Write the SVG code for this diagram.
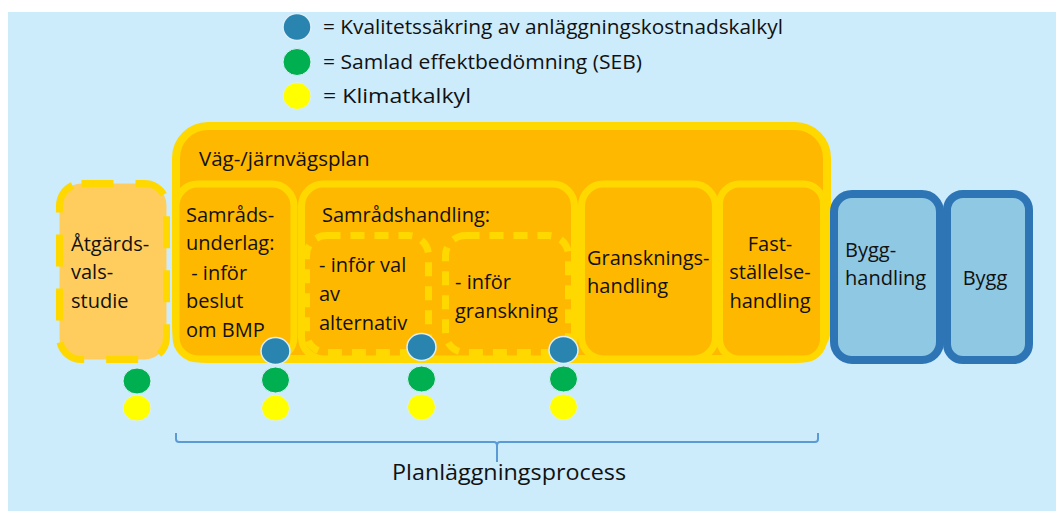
<svg xmlns="http://www.w3.org/2000/svg" width="1056" height="511" viewBox="0 0 1056 511">
<style>
text{font-family:"Open Sans","Liberation Sans",sans-serif;font-size:20px;fill:#111}
.leg{font-size:20.5px}
.box{fill:#FFB800;stroke:#FFD800;stroke-width:7}
.dash{fill:#FFB800;stroke:#FFD800;stroke-width:7;stroke-dasharray:14 10}
.blue{fill:#8FC8E3;stroke:#2E75B6;stroke-width:8}
.db{fill:#2A84B0;stroke:#DCEEF9;stroke-width:1.5}
.dg{fill:#00B050;stroke:#DCEEF9;stroke-width:1}
.dy{fill:#FFFF00;stroke:#DCEEF9;stroke-width:1}
.mid{text-anchor:middle}
</style>
<rect x="0" y="0" width="1056" height="511" fill="#FFFFFF"/>
<rect x="8" y="12" width="1048" height="499" fill="#CCEBFB"/>

<g id="legend">
<ellipse class="db" cx="297" cy="27" rx="14" ry="13.5"/>
<text class="leg" x="323" y="34" textLength="460" lengthAdjust="spacingAndGlyphs">= Kvalitetssäkring av anläggningskostnadskalkyl</text>
<ellipse class="dg" cx="297" cy="62" rx="14" ry="13.5"/>
<text class="leg" x="323" y="69" textLength="319" lengthAdjust="spacingAndGlyphs">= Samlad effektbedömning  (SEB)</text>
<ellipse class="dy" cx="297" cy="96" rx="14" ry="13.5"/>
<text class="leg" x="323" y="103" textLength="148" lengthAdjust="spacingAndGlyphs">= Klimatkalkyl</text>
</g>

<g id="atgard">
<rect x="59.5" y="183.5" width="107" height="176" rx="22" fill="#FFCD5E" stroke="#FFD800" stroke-width="7" stroke-dasharray="32 22"/>
<text x="71" y="251">Åtgärds-</text>
<text x="71" y="279">vals-</text>
<text x="71" y="308">studie</text>
</g>

<g id="vagplan">
<rect x="176" y="126" width="651" height="233" rx="32" fill="#FFB800" stroke="#FFD800" stroke-width="8"/>
<text x="199" y="166" style="font-size:20.5px">Väg-/järnvägsplan</text>
</g>

<g id="samradsunderlag">
<rect class="box" x="176" y="184" width="118" height="175" rx="22"/>
<text x="186" y="222">Samråds-</text>
<text x="186" y="250">underlag:</text>
<text x="186" y="280" xml:space="preserve"> - inför</text>
<text x="186" y="308">beslut</text>
<text x="186" y="337">om BMP</text>
</g>

<g id="samradshandling">
<rect class="box" x="301.5" y="184" width="273" height="175" rx="22"/>
<text x="322" y="222">Samrådshandling:</text>
</g>

<g id="valalternativ">
<rect class="dash" x="306.5" y="235.5" width="122" height="117" rx="20"/>
<text x="319" y="272">- inför val</text>
<text x="319" y="301">av</text>
<text x="319" y="330">alternativ</text>
</g>

<g id="granskning">
<rect class="dash" x="445.5" y="235.5" width="123" height="117" rx="20"/>
<text x="455" y="289">- inför</text>
<text x="455" y="318">granskning</text>
</g>

<g id="granskningshandling">
<rect class="box" x="581.5" y="184" width="134" height="175" rx="22"/>
<text x="587" y="265">Gransknings-</text>
<text x="587" y="293">handling</text>
</g>

<g id="faststallelse">
<rect class="box" x="719.5" y="184" width="104" height="175" rx="20"/>
<text class="mid" x="770" y="251">Fast-</text>
<text class="mid" x="770" y="279">ställelse-</text>
<text class="mid" x="770" y="308">handling</text>
</g>

<g id="bygghandling">
<rect class="blue" x="834" y="194" width="106" height="166" rx="18"/>
<text x="845" y="257">Bygg-</text>
<text x="845" y="285">handling</text>
</g>

<g id="bygg">
<rect class="blue" x="947" y="194" width="82" height="166" rx="16"/>
<text class="mid" x="985" y="285">Bygg</text>
</g>

<g id="dots">
<ellipse class="dg" cx="137" cy="381" rx="14" ry="13"/>
<ellipse class="dy" cx="137" cy="408" rx="14" ry="13"/>
<ellipse class="db" cx="275.5" cy="351" rx="14.5" ry="13.5"/>
<ellipse class="dg" cx="275.5" cy="380" rx="14" ry="13"/>
<ellipse class="dy" cx="275.5" cy="408" rx="14" ry="13"/>
<ellipse class="db" cx="421.5" cy="347" rx="14.5" ry="13.5"/>
<ellipse class="dg" cx="421.5" cy="379" rx="14" ry="13"/>
<ellipse class="dy" cx="421.5" cy="407" rx="14" ry="13"/>
<ellipse class="db" cx="563.5" cy="350" rx="14.5" ry="13.5"/>
<ellipse class="dg" cx="563.5" cy="379" rx="14" ry="13"/>
<ellipse class="dy" cx="563.5" cy="407" rx="14" ry="13"/>
</g>

<g id="connectors">
<path d="M176,433 V439 Q176,442 179,442 H494 Q497,442 497,446 V462 M497,446 Q497,442 500,442 H815 Q818,442 818,439 V433" fill="none" stroke="#5B9BD5" stroke-width="2"/>
</g>
<g id="process">
<text x="392" y="480" style="font-size:22px" textLength="234" lengthAdjust="spacingAndGlyphs">Planläggningsprocess</text>
</g>
</svg>
